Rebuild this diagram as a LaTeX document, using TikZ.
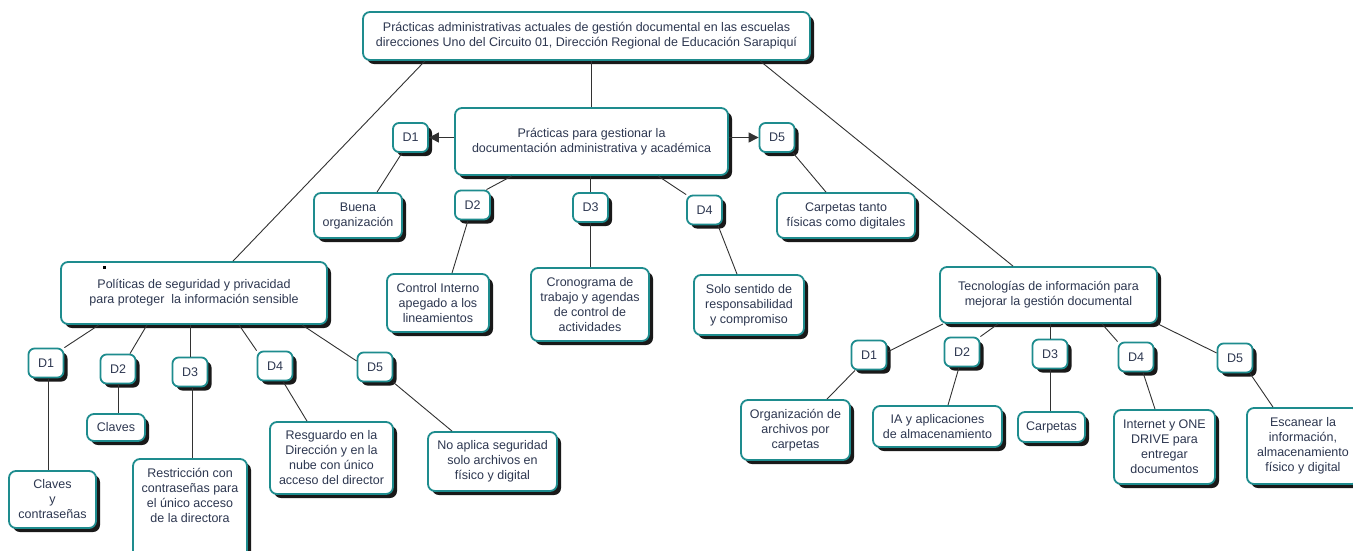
\documentclass[tikz,border=0pt]{standalone}
\usepackage{fontspec}
\setmainfont{Liberation Sans}
\usetikzlibrary{shadows,arrows.meta}
\definecolor{teal1}{RGB}{30,140,142}
\definecolor{txt}{RGB}{45,55,80}
\definecolor{ln}{RGB}{50,50,50}
\begin{document}
\begin{tikzpicture}[x=1pt,y=-1pt,
 box/.style={draw=teal1,line width=1.8pt,rounded corners=7pt,fill=white,
   drop shadow={shadow xshift=4pt,shadow yshift=-4pt,fill=black!90,opacity=1},
   align=center,inner sep=2pt,text=txt,font=\fontsize{12.5}{15}\selectfont},
 dbox/.style={box,minimum width=35pt,minimum height=29pt,rounded corners=6pt},
 conn/.style={draw=ln,line width=0.9pt},
 arr/.style={conn,-{Triangle[length=10pt,width=10pt]}}]
\fill[white] (0,0) rectangle (1353,550);
\useasboundingbox (0,0) rectangle (1353,550);

% top level
\node[box,minimum width=447pt,minimum height=48pt] (top) at (586.5,36)
 {Prácticas administrativas actuales de gestión documental en las escuelas\\direcciones Uno del Circuito 01, Dirección Regional de Educación Sarapiquí};

% middle branch
\node[box,minimum width=273pt,minimum height=67pt] (prac) at (591.5,141.5)
 {Prácticas para gestionar la\\documentación administrativa y académica};
\node[dbox] (mD1) at (410.5,137.5) {D1};
\node[dbox] (mD5) at (777,137.5) {D5};
\node[dbox] (mD2) at (472.5,205) {D2};
\node[dbox] (mD3) at (590.5,207.5) {D3};
\node[dbox] (mD4) at (704.5,210) {D4};
\node[box,minimum width=88pt,minimum height=45pt] (buena) at (358,215.5) {Buena\\organización};
\node[box,minimum width=138pt,minimum height=45pt] (carp) at (846,215.5) {Carpetas tanto\\físicas como digitales};
\node[box,minimum width=102pt,minimum height=58pt] (ctrl) at (438,303) {Control Interno\\apegado a los\\lineamientos};
\node[box,minimum width=118pt,minimum height=73pt] (crono) at (590,304.5) {Cronograma de\\trabajo y agendas\\de control de\\actividades};
\node[box,minimum width=110pt,minimum height=60pt] (solo) at (749,305) {Solo sentido de\\responsabilidad\\y compromiso};

% left branch
\node[box,minimum width=266pt,minimum height=62pt] (pol) at (194,293)
 {Políticas de seguridad y privacidad\\para proteger\ \ la información sensible};
\node[dbox] (lD1) at (46,363) {D1};
\node[dbox] (lD2) at (118,369) {D2};
\node[dbox] (lD3) at (190,372) {D3};
\node[dbox] (lD4) at (275,366) {D4};
\node[dbox] (lD5) at (375,367) {D5};
\node[box,minimum width=87pt,minimum height=57pt] (clavesy) at (52.5,499.5) {Claves\\y\\contraseñas};
\node[box,minimum width=58pt,minimum height=27pt] (claves) at (116,427.5) {Claves};
\node[box,minimum width=114pt,minimum height=101pt,inner sep=0pt] (restr) at (190,509.5)
 {\parbox[c][97pt][t]{110pt}{\centering\vspace{7pt}Restricción con\\contraseñas para\\el único acceso\\de la directora}};
\node[box,minimum width=123pt,minimum height=72pt] (resg) at (331.5,458) {Resguardo en la\\Dirección y en la\\nube con único\\acceso del director};
\node[box,minimum width=129pt,minimum height=59pt] (noap) at (492.5,461.5) {No aplica seguridad\\solo archivos en\\físico y digital};
\fill[black] (103,266) rectangle (106,269);

% right branch
\node[box,minimum width=217pt,minimum height=56pt] (tec) at (1048.5,295)
 {Tecnologías de información para\\mejorar la gestión documental};
\node[dbox] (rD1) at (869,355) {D1};
\node[dbox] (rD2) at (962,352) {D2};
\node[dbox] (rD3) at (1050,354) {D3};
\node[dbox] (rD4) at (1136,357) {D4};
\node[dbox] (rD5) at (1235,358) {D5};
\node[box,minimum width=109pt,minimum height=60pt] (org) at (795.5,430) {Organización de\\archivos por\\carpetas};
\node[box,minimum width=129pt,minimum height=41pt] (ia) at (937.5,426.5) {IA y aplicaciones\\de almacenamiento};
\node[box,minimum width=67pt,minimum height=30pt] (carpR) at (1051.5,427) {Carpetas};
\node[box,minimum width=101pt,minimum height=74pt] (inet) at (1164.5,447) {Internet y ONE\\DRIVE para\\entregar\\documentos};
\node[box,minimum width=112pt,minimum height=76pt] (esc) at (1303,446) {Escanear la\\información,\\almacenamiento\\físico y digital};

% connectors from top
\draw[conn] ([xshift=-161.5pt]top.south) -- ([xshift=39pt]pol.north);
\draw[conn] (prac.north |- top.south) -- (prac.north);
\draw[conn] ([xshift=173.5pt]top.south) -- ([xshift=-35.5pt]tec.north);

% middle
\draw[arr] (prac.west |- mD1.east) -- (mD1.east);
\draw[arr] (prac.east |- mD5.west) -- (mD5.west);
\draw[conn] ([xshift=-8.5pt]mD1.south) -- ([xshift=19pt]buena.north);
\draw[conn] ([xshift=16pt]mD5.south) -- ([xshift=-20pt]carp.north);
\draw[conn] ([xshift=-79.5pt]prac.south) -- ([xshift=14pt]mD2.north);
\draw[conn] (mD3.north |- prac.south) -- (mD3.north);
\draw[conn] ([xshift=66.5pt]prac.south) -- (mD4.north west);
\draw[conn] ([xshift=-4.5pt]mD2.south) -- ([xshift=14pt]ctrl.north);
\draw[conn] (mD3.south) -- (mD3.south |- crono.north);
\draw[conn] ([xshift=13.5pt]mD4.south) -- ([xshift=-12pt]solo.north);

% left
\draw[conn] ([xshift=-95pt]pol.south) -- (lD1.north east);
\draw[conn] ([xshift=-47pt]pol.south) -- ([xshift=12pt]lD2.north);
\draw[conn] (lD3.north |- pol.south) -- (lD3.north);
\draw[conn] ([xshift=45pt]pol.south) -- (lD4.north west);
\draw[conn] ([xshift=108pt]pol.south) -- ([yshift=6pt]lD5.west);
\draw[conn] ([xshift=2pt]lD1.south) -- ([xshift=2pt]lD1.south |- clavesy.north);
\draw[conn] (lD2.south) -- (lD2.south |- claves.north);
\draw[conn] ([xshift=2pt]lD3.south) -- ([xshift=2pt]lD3.south |- restr.north);
\draw[conn] ([xshift=8pt]lD4.south) -- ([xshift=-24.5pt]resg.north);
\draw[conn] (lD5.south east) -- ([xshift=-40.5pt]noap.north);

% right
\draw[conn] ([xshift=-105.5pt]tec.south) -- ([yshift=3pt]rD1.east);
\draw[conn] ([xshift=-50.5pt]tec.south) -- (rD2.north east);
\draw[conn] (rD3.north |- tec.south) -- (rD3.north);
\draw[conn] ([xshift=53.5pt]tec.south) -- (rD4.north west);
\draw[conn] (tec.south east) -- ([yshift=5pt]rD5.west);
\draw[conn] ([xshift=-14pt]rD1.south) -- ([xshift=31.5pt]org.north);
\draw[conn] ([xshift=-3pt]rD2.south) -- ([xshift=10.5pt]ia.north);
\draw[conn] (rD3.south) -- (rD3.south |- carpR.north);
\draw[conn] ([xshift=7pt]rD4.south) -- ([xshift=-9.5pt]inet.north);
\draw[conn] ([xshift=15pt]rD5.south) -- ([xshift=-30pt]esc.north);
\end{tikzpicture}
\end{document}
